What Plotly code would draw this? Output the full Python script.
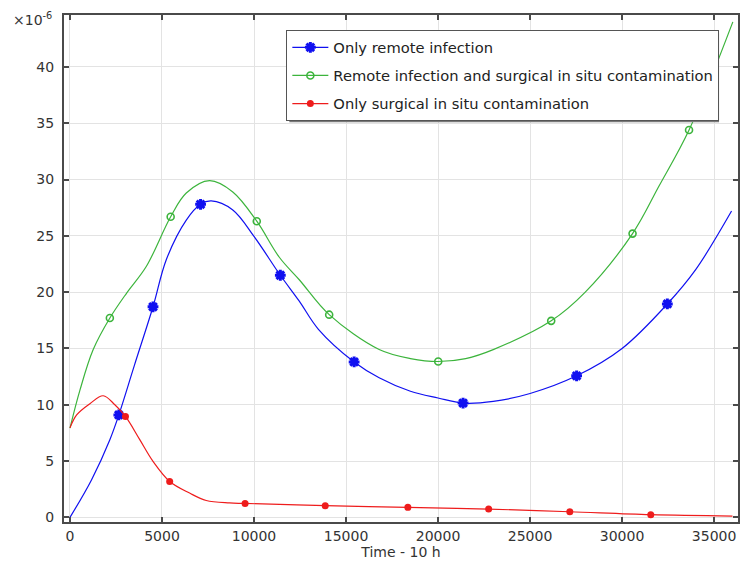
import plotly.graph_objects as go

# Time axis (units of 10 h) and concentrations (x 1e-6)
blue_x = [0, 1175, 2167, 2654, 3500, 4512, 5237, 6320, 7096, 7675, 8847, 10020,
          11430, 12460, 13500, 15440, 16800, 18500, 20000, 21360, 23000, 25000,
          27530, 30000, 32460, 34000, 35950]
blue_y = [0, 3.35, 6.9, 9.1, 13.5, 18.7, 22.9, 26.4, 27.8, 28.1, 27.3, 24.9,
          21.5, 19.2, 16.7, 13.8, 12.4, 11.2, 10.6, 10.15, 10.3, 11.0,
          12.57, 15.0, 18.95, 22.0, 27.2]
blue_marks = [2654, 4512, 7096, 11430, 15440, 21360, 27530, 32460]

green_x = [0, 541, 1262, 2167, 3070, 4153, 5471, 6320, 7584, 8847, 10150, 11375,
           12460, 14085, 16800, 18500, 20010, 21500, 23000, 26150, 28000, 30570,
           32000, 33640, 36020]
green_y = [7.93, 11.3, 14.9, 17.7, 19.9, 22.3, 26.7, 28.8, 29.9, 28.9, 26.3, 23.1,
           21.1, 18.0, 14.9, 14.1, 13.84, 14.1, 14.9, 17.45, 20.0, 25.2,
           29.4, 34.4, 44.0]
green_marks = [2167, 5471, 10150, 14085, 20010, 26150, 30570, 33640]

red_x = [0, 362, 1083, 1805, 2438, 3015, 3792, 4512, 5417, 6500, 7403, 8667,
         9515, 13870, 18360, 22750, 27160, 31560, 36000]
red_y = [7.95, 9.1, 10.1, 10.8, 10.0, 8.96, 6.9, 4.97, 3.19, 2.16, 1.5, 1.28,
         1.24, 1.04, 0.89, 0.74, 0.5, 0.24, 0.12]
red_marks = [3015, 5417, 9515, 13870, 18360, 22750, 27160, 31560]

x_ticks = [0, 5000, 10000, 15000, 20000, 25000, 30000, 35000]
y_ticks = [0, 5, 10, 15, 20, 25, 30, 35, 40]

BLUE, GREEN, RED = "#1010f0", "#3cb43c", "#ee1c1c"

series = [
    ("Only remote infection", blue_x, blue_y, blue_marks, BLUE,
     dict(symbol="asterisk-open", size=9, color=BLUE,
          line=dict(width=3, color=BLUE))),
    ("Remote infection and surgical in situ contamination", green_x, green_y,
     green_marks, GREEN,
     dict(symbol="circle-open", size=7, color=GREEN,
          line=dict(width=1.6, color=GREEN))),
    ("Only surgical in situ contamination", red_x, red_y, red_marks, RED,
     dict(symbol="circle", size=7, color=RED, line=dict(width=0, color=RED))),
]

fig = go.Figure()
for i, (name, xs, ys, marks, color, mk) in enumerate(series):
    lookup = dict(zip(xs, ys))
    fig.add_trace(go.Scatter(
        x=xs, y=ys, mode="lines", showlegend=False, hoverinfo="skip",
        line=dict(color=color, width=1.2, shape="spline", smoothing=1.0)))
    fig.add_trace(go.Scatter(
        x=marks, y=[lookup[m] for m in marks], mode="markers",
        showlegend=False, marker=mk))
    # legend entry with line and marker sample
    fig.add_trace(go.Scatter(
        x=[None], y=[None], mode="lines+markers", name=name,
        legendgroup=f"g{i}", line=dict(color=color, width=1.2), marker=mk))

TICK_FONT = dict(family="DejaVu Sans", size=14, color="#333333")

axis_common = dict(
    showline=True, linecolor="#4a4a4a", linewidth=2, mirror="ticks",
    ticks="inside", ticklen=5, tickwidth=1.5, tickcolor="#4a4a4a",
    showgrid=True, gridcolor="#e3e3e3", gridwidth=1, zeroline=False,
    tickfont=TICK_FONT,
)

fig.update_xaxes(
    range=[-325, 36300], tickvals=x_ticks,
    ticktext=[str(v) for v in x_ticks],
    title=dict(text="Time - 10 h", standoff=3, font=TICK_FONT),
    **axis_common)
fig.update_yaxes(
    range=[-0.41, 44.61], tickvals=y_ticks,
    ticktext=[str(v) for v in y_ticks], ticklabelstandoff=5,
    **axis_common)

# drop shadow behind the legend box
fig.add_shape(type="rect", xref="paper", yref="paper",
              x0=(290 - 64) / 676, x1=(721 - 64) / 676,
              y0=(522.3 - 122) / 507.6, y1=(522.3 - 33) / 507.6,
              fillcolor="#7a7a7a", line=dict(width=0), layer="above")

fig.add_annotation(
    text="×10<sup>-6</sup>", xref="paper", yref="paper",
    x=(32 - 64) / 676, y=1.0, xanchor="center", yanchor="bottom",
    showarrow=False, yshift=-15,
    font=dict(family="DejaVu Sans", size=14, color="#333333"))

fig.update_layout(
    width=740, height=563,
    margin=dict(l=64, r=0, t=15, b=41),
    paper_bgcolor="white", plot_bgcolor="white",
    font=dict(family="DejaVu Sans", size=14, color="#222222"),
    legend=dict(
        x=(287 - 64) / 676, y=(522.3 - 30) / 507.6,
        xanchor="left", yanchor="top",
        bgcolor="white", bordercolor="#555555", borderwidth=1,
        traceorder="grouped", tracegroupgap=6,
        font=dict(family="DejaVu Sans", size=14.7, color="#222222"),
        itemwidth=36),
)

fig.write_html("out.html")
